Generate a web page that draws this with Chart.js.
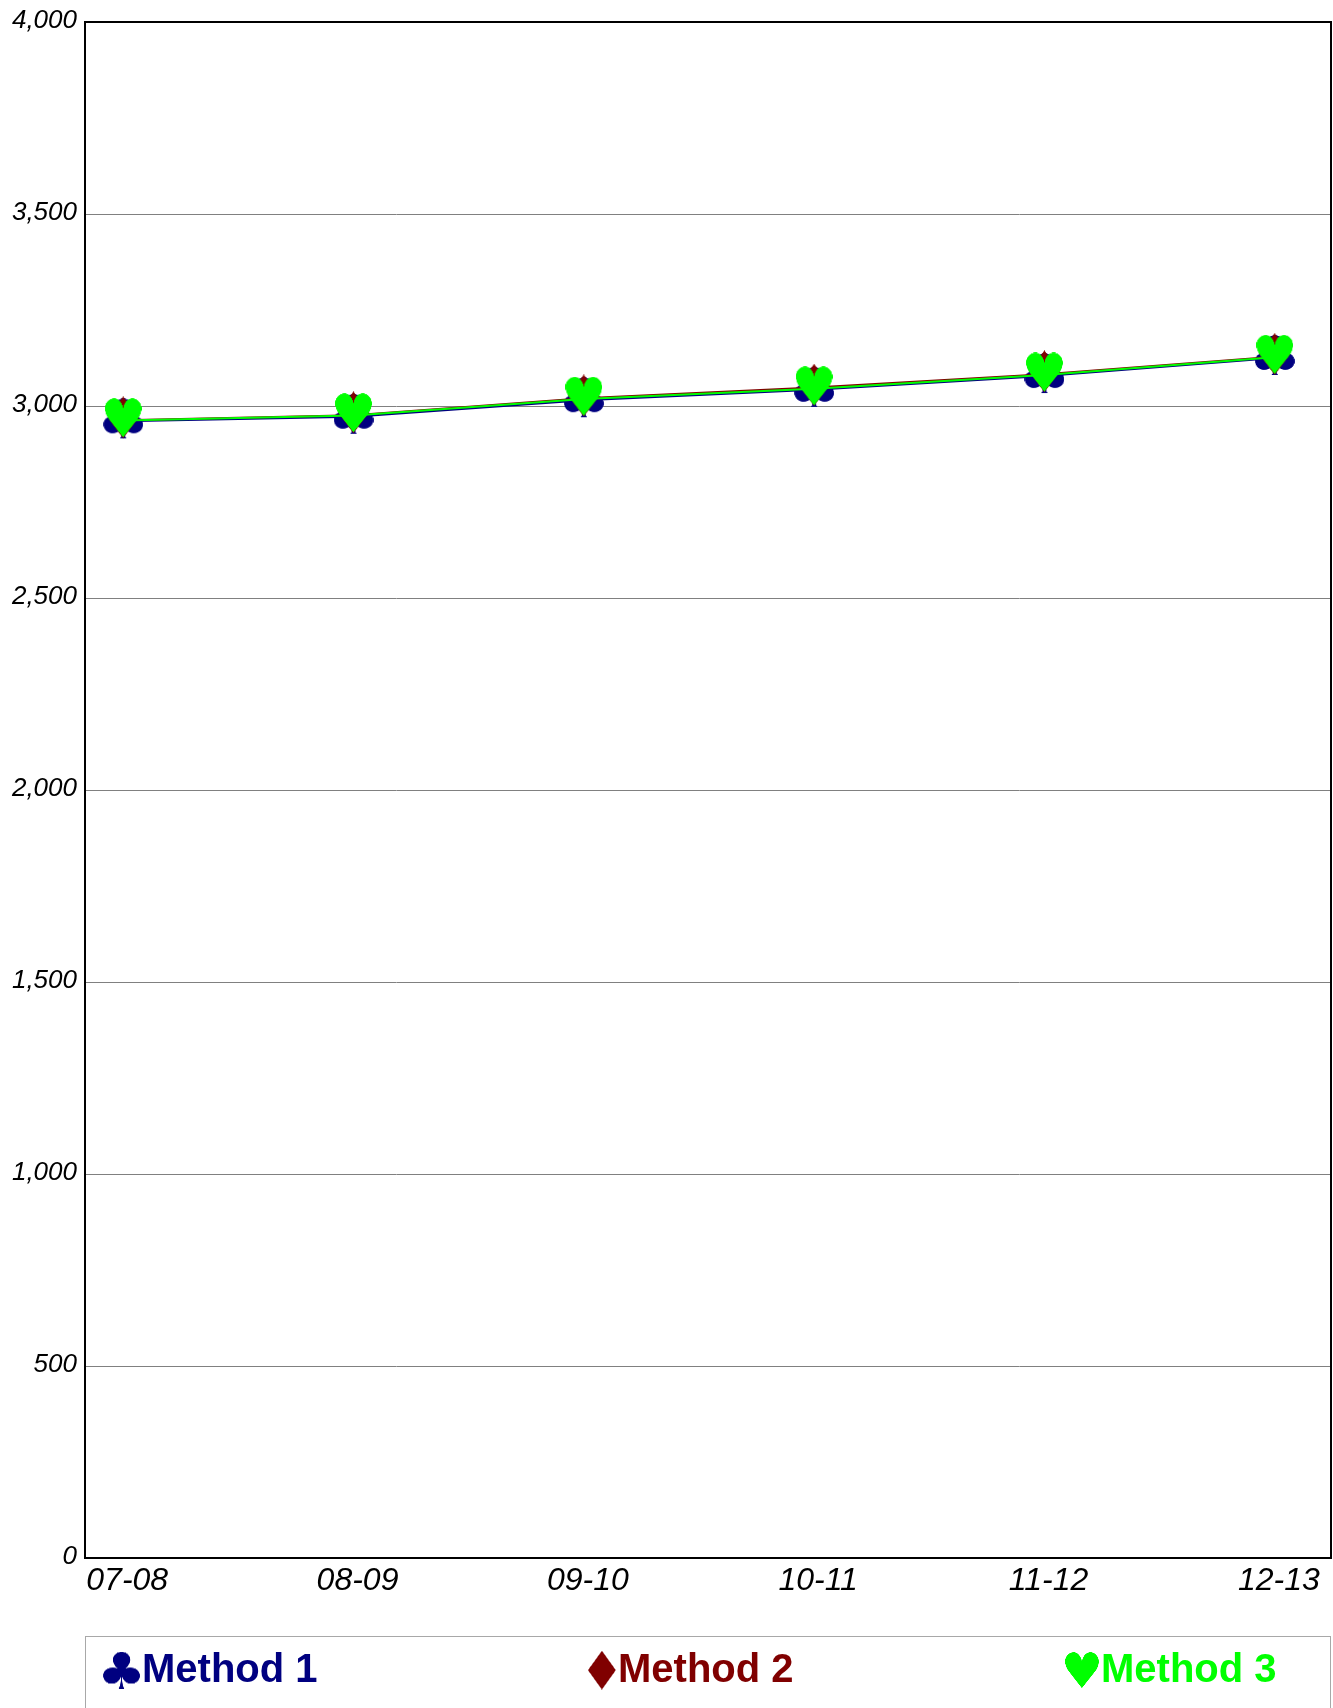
<!DOCTYPE html>
<html>
<head>
<meta charset="utf-8">
<script src="https://cdn.jsdelivr.net/npm/chart.js@4.4.0/dist/chart.umd.min.js"></script>
<style>
    html, body { margin: 0; padding: 0; background: #fff; }
    #wrap { width: 1333px; height: 1708px; }
</style>
</head>
<body>
<div id="wrap"><canvas id="chart" width="1333" height="1708"></canvas></div>
<script>
// Data
const seasons = ['07-08', '08-09', '09-10', '10-11', '11-12', '12-13'];
const method1 = [2960, 2972, 3015, 3042, 3078, 3125];
const method2 = [2963, 2976, 3020, 3048, 3083, 3128];
const method3 = [2962, 2975, 3018, 3045, 3081, 3127];
const yTicks = [0, 500, 1000, 1500, 2000, 2500, 3000, 3500, 4000];

const seriesNames = ['Method 1', 'Method 2', 'Method 3'];
const seriesColors = ['#000080', '#800000', '#00ff00'];
const seriesGlyphs = ['\u2663', '\u2666', '\u2665'];

// Glyph size [w, h] and legend start x
const glyphSizes = [[40, 40], [31, 42], [37, 39]];
const legendX = [103, 588, 1065];

// Draw a suit glyph tightly cropped into a small canvas, lifted a bit above the point
function makeGlyph(ch, color, w, h, lift) {
    const big = document.createElement('canvas');
    big.width = 220;
    big.height = 220;
    const bctx = big.getContext('2d');
    bctx.font = '150px "DejaVu Sans"';
    bctx.fillStyle = color;
    bctx.textBaseline = 'alphabetic';
    const m = bctx.measureText(ch);
    bctx.fillText(ch, 30, 170);
    const sx = 30 - m.actualBoundingBoxLeft;
    const sy = 170 - m.actualBoundingBoxAscent;
    const sw = m.actualBoundingBoxLeft + m.actualBoundingBoxRight;
    const sh = m.actualBoundingBoxAscent + m.actualBoundingBoxDescent;

    const c = document.createElement('canvas');
    c.width = w;
    c.height = h + 2 * lift;
    c.getContext('2d').drawImage(big, sx, sy, sw, sh, 0, 0, w, h);
    return c;
}

const markers = seriesGlyphs.map((g, i) => makeGlyph(g, seriesColors[i], glyphSizes[i][0], glyphSizes[i][1], 3));
const legendGlyphs = seriesGlyphs.map((g, i) => makeGlyph(g, seriesColors[i], glyphSizes[i][0] - 3, glyphSizes[i][1] - 3, 0));

const seriesValues = [method1, method2, method3];

// Frame around the plot area plus the legend box underneath
const framePlugin = {
    id: 'frame',
    afterDraw(chart) {
        const { ctx, chartArea } = chart;
        ctx.save();
        ctx.strokeStyle = '#000';
        ctx.lineWidth = 2;
        ctx.strokeRect(chartArea.left, chartArea.top, chartArea.right - chartArea.left, chartArea.bottom - chartArea.top);

        // legend box
        ctx.strokeStyle = '#a8a8a8';
        ctx.lineWidth = 1;
        ctx.strokeRect(85.5, 1636.5, 1245, 120);

        ctx.font = 'bold 40px "Liberation Sans"';
        ctx.textBaseline = 'middle';
        chart.data.datasets.forEach((ds, i) => {
            const img = legendGlyphs[i];
            const x = legendX[i];
            ctx.drawImage(img, x, 1670 - img.height / 2);
            ctx.fillStyle = ds.borderColor;
            ctx.fillText(ds.label, x + img.width + 2, 1671);
        });
        ctx.restore();
    }
};

const ctx = document.getElementById('chart').getContext('2d');
const chart = new Chart(ctx, {
    type: 'line',
    data: {
        datasets: seriesNames.map((name, i) => ({
            label: name,
            data: seasons.map((s, j) => ({ x: j, y: seriesValues[i][j] })),
            borderColor: seriesColors[i],
            backgroundColor: seriesColors[i],
            borderWidth: 2,
            pointStyle: markers[i],
            pointRadius: 10,
            fill: false,
            tension: 0,
            order: 3 - i
        }))
    },
    options: {
        responsive: false,
        animation: false,
        devicePixelRatio: 1,
        layout: { autoPadding: false, padding: { top: 22, right: 2, left: 0, bottom: 0 } },
        plugins: {
            legend: { display: false },
            tooltip: { enabled: false }
        },
        scales: {
            x: {
                type: 'linear',
                min: -0.166,
                max: 5.244,
                afterFit: (scale) => {
                    scale.height = 150;
                    scale.paddingLeft = 0;
                    scale.paddingRight = 0;
                },
                afterBuildTicks: (scale) => { scale.ticks = seasons.map((s, i) => ({ value: i })); },
                grid: { display: false, drawTicks: false },
                border: { display: false },
                ticks: {
                    padding: 4,
                    labelOffset: 4,
                    color: '#000',
                    autoSkip: false,
                    maxRotation: 0,
                    font: { family: 'Liberation Sans', size: 32, style: 'italic' },
                    callback: (v) => seasons[v]
                }
            },
            y: {
                min: 0,
                max: 4000,
                afterFit: (scale) => {
                    scale.width = 85;
                    scale.paddingTop = 0;
                    scale.paddingBottom = 0;
                },
                afterBuildTicks: (scale) => { scale.ticks = yTicks.map(v => ({ value: v })); },
                grid: { color: '#808080', lineWidth: 1, drawTicks: false },
                border: { display: false },
                ticks: {
                    padding: 8,
                    labelOffset: -1,
                    color: '#000',
                    font: { family: 'Liberation Sans', size: 26, style: 'italic' },
                    callback: (v) => v.toLocaleString('en-US')
                }
            }
        }
    },
    plugins: [framePlugin]
});
</script>
</body>
</html>
